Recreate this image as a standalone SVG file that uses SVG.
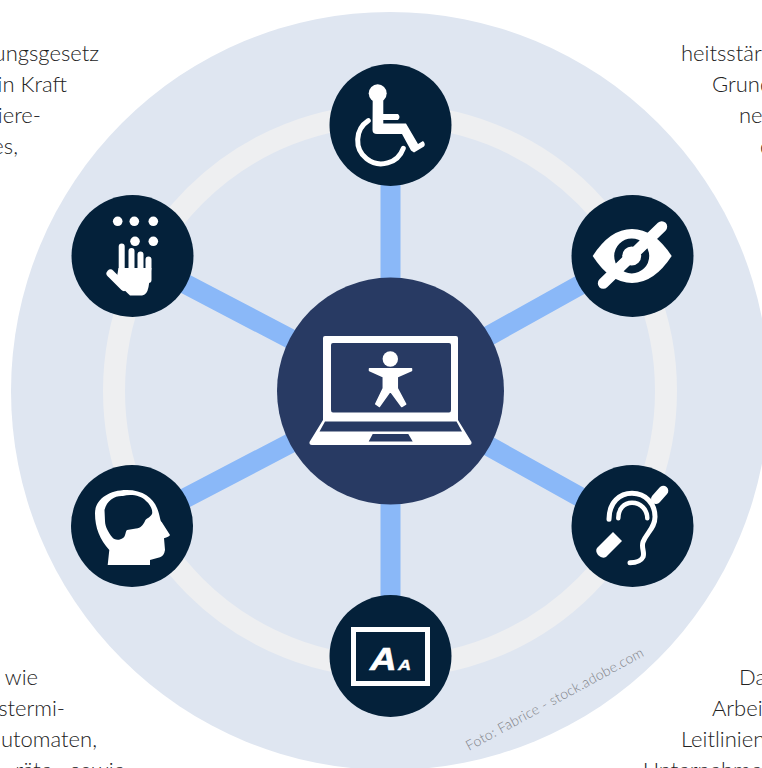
<svg xmlns="http://www.w3.org/2000/svg" width="762" height="768" viewBox="0 0 762 768">
<style>
.t{font-family:"Lato","Noto Sans",sans-serif;font-weight:300;font-size:22px;fill:#222}
.e{text-anchor:end}
.n{fill:#04213a}
.w{fill:#fff}
.s{fill:none;stroke:#fff;stroke-linecap:round;stroke-linejoin:round}
.spoke{stroke:#8ab8f8;stroke-width:20;fill:none}
</style>
<rect width="762" height="768" fill="#fff"/>
<g id="copy-left">
<text class="t e" x="99" y="61">ungsgesetz</text>
<text class="t e" x="67" y="92">in Kraft</text>
<text class="t e" x="41" y="123">iere-</text>
<text class="t e" x="18" y="154">es,</text>
<text class="t e" x="38" y="685">wie</text>
<text class="t e" x="65" y="716">stermi-</text>
<text class="t e" x="97" y="747">utomaten,</text>
<text class="t e" x="125" y="778" word-spacing="12">räte sowie</text>
</g>
<g id="copy-right">
<text class="t" x="681" y="61">heitsstär</text>
<text class="t" x="712" y="92">Grund</text>
<text class="t" x="739" y="123">ne</text>
<text class="t" x="760" y="154">d</text>
<text class="t" x="739" y="685">Da</text>
<text class="t" x="712" y="716">Arbei</text>
<text class="t" x="681" y="747">Leitlinien</text>
<text class="t" x="643" y="778">Unternehmen</text>
</g>
<circle id="disc" cx="390" cy="391" r="379" fill="#dfe6f1"/>
<circle id="ring" cx="390" cy="391" r="276" fill="none" stroke="#eeeff1" stroke-width="22"/>
<g id="connectors">
<path class="spoke" d="M390.500 391V125M390.500 391V656M390 391L632 256M390 391L632 526M390 391L132 526M390 391L132 256"/>
</g>
<g id="node-center">
<circle cx="390.500" cy="391" r="113.500" fill="#283a63"/>
<path fill="#fff" fill-rule="evenodd" d="M325 336H456Q458 336 458 338V420L471.500 442Q472 445 469 445H312Q309 445 309.500 442L323 420V338Q323 336 325 336ZM333 343Q331 343 331 345V410Q331 412.500 333 412.500H449Q451 412.500 451 410V345Q451 343 449 343ZM325 421.500L319.500 431.500H462L456.500 421.500ZM372.700 434L368.700 441.500H412.700L408.300 434Z"/>
<circle class="w" cx="390.300" cy="359" r="7.700"/>
<path class="w" stroke="#fff" stroke-width="1.500" stroke-linejoin="round" d="M369.500 368.800H411.500V370.500L397.300 376.700V388.300L405.700 404L401.700 406.500L390.300 391L379.300 406.500L375.700 404L383.300 388.300V376.700L369.500 370.500Z"/>
</g>
<g id="node-mobility">
<circle class="n" cx="390.500" cy="125" r="61"/>
<circle class="w" cx="377.700" cy="93.300" r="9"/>
<path class="w" d="M372.700 99H383.300V114H398Q401 117 398 120H383.300V123.500H406L418 144L423 141Q426 144 424 146.500L414 152.500L411 150.500L402 134H377Q372.500 134 372.500 130Z"/>
<path class="s" stroke-width="5" d="M368.300 120.700A23.500 23.500 0 1 0 403.300 148.300"/>
</g>
<g id="node-vision">
<circle class="n" cx="632.500" cy="256" r="61"/>
<path class="w" d="M592.700 256Q610 229 632 229T671.700 256Q654 283 632 283T592.700 256Z"/>
<circle cx="631.700" cy="256" r="13.500" fill="#fff" stroke="#04213a" stroke-width="8"/>
<path class="s" stroke-width="11" d="M603.300 283.300L661.700 226.700"/>
</g>
<g id="node-hearing">
<circle class="n" cx="632.500" cy="526" r="61"/>
<path class="s" stroke-width="10" d="M656 499L663.300 490.700"/>
<path class="w" d="M613 532L622 541L606 557Q602 559 598 555Q595 551 597 548Z"/>
<path class="s" stroke-linecap="butt" stroke-width="5" d="M609 519.300C609 502 620 493.300 632 493.300C646 493.300 655 504 655 516.700C655 528 647 532 643 542C641 548 645 552 643 557C641 561 636 562.700 630 562.700"/>
<path class="s" stroke-linecap="butt" stroke-width="4.500" d="M618.300 518.300C618.300 509 624 502.700 632 502.700C641 502.700 647.300 510 647.300 518.300"/>
</g>
<g id="node-cognition">
<circle class="n" cx="132" cy="526" r="61"/>
<path class="w" d="M107.700 565L109.300 550C100 540 95 528 95 513.300C95 500 108 490 126.700 490C143 490 153 498 157 508C160 515 160 521 161.700 522L170 535Q169 537 164 538.300L165 550Q164 556 160 557.300L150 560V565Z"/>
<path class="n" d="M104.500 510C107 500 115 495.500 123 496C130 494 141 495 146 501C151 505 153 511 152 514C150 518 146 518 145 521C143 525 141 528 136 528.500L127 530C125 532 126 536 123 538C119 541 114 540 112 537C109 533 105 527 105 521Z"/>
</g>
<g id="node-text-size">
<circle class="n" cx="390.500" cy="656" r="61"/>
<rect x="353.500" y="629.500" width="74" height="54" fill="none" stroke="#fff" stroke-width="5"/>
<text transform="translate(370 669.500) scale(1.15 1)" font-family="Liberation Sans, sans-serif" font-weight="700" font-style="italic" font-size="32" fill="#fff" stroke="#fff" stroke-width="0.600">A</text>
<text transform="translate(398 669.500) scale(1.25 1)" font-family="Liberation Sans, sans-serif" font-weight="700" font-style="italic" font-size="14.500" fill="#fff" stroke="#fff" stroke-width="0.400">A</text>
</g>
<g id="node-touch">
<circle class="n" cx="132.500" cy="256" r="61"/>
<circle class="w" cx="117.700" cy="221.300" r="4.800"/>
<circle class="w" cx="134.300" cy="221.300" r="4.800"/>
<circle class="w" cx="153.300" cy="221.300" r="4.800"/>
<circle class="w" cx="135" cy="241.300" r="4.800"/>
<circle class="w" cx="153.300" cy="241.300" r="4.800"/>
<path class="s" stroke-width="6" d="M121.700 246.500V276M131.500 251V272M140.500 254.500V272M148.500 259.500V280"/>
<path class="s" stroke-width="8" d="M110.500 273.500L124 287"/>
<path class="w" d="M118.500 268H151.500L148.500 287Q147 295 142 295.500H130L116 282Z"/>
</g>
<text transform="translate(469 751) rotate(-28.500)" font-family="Lato, sans-serif" font-weight="300" font-size="14" fill="#7f8388" textLength="200">Foto: Fabrice - stock.adobe.com</text>
</svg>
